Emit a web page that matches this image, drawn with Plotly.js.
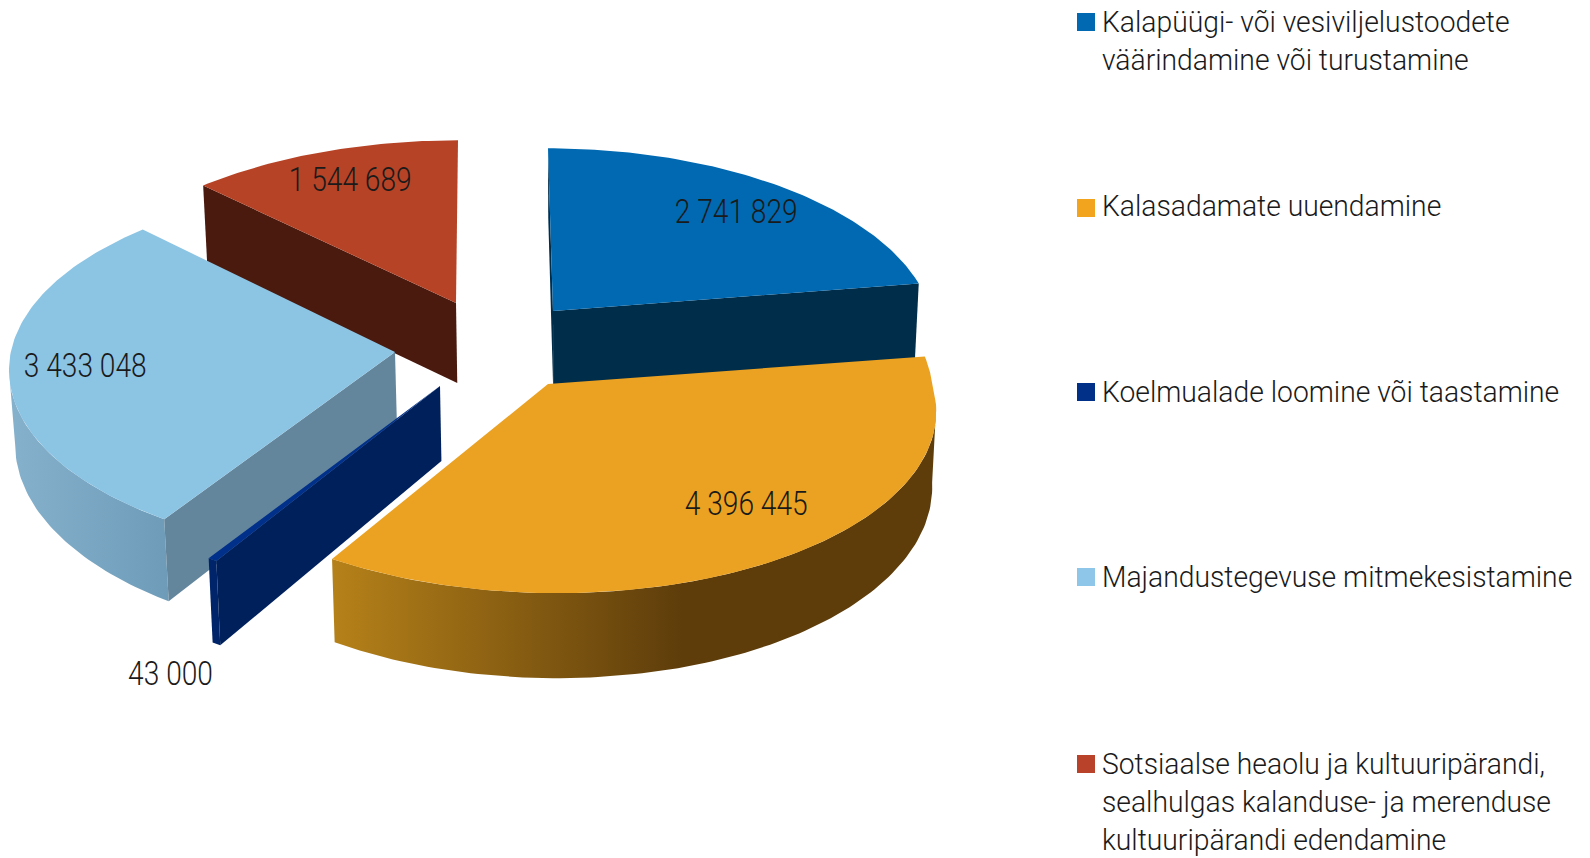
<!DOCTYPE html>
<html lang="et">
<head>
<meta charset="utf-8">
<title>Kalanduse tegevused</title>
<script src="https://cdn.plot.ly/plotly-3.0.1.min.js"></script>
<style>html,body{margin:0;padding:0;background:#fff}#chart{width:1590px;height:858px}</style>
</head>
<body>
<div id="chart"></div>
<script>
const categories = [
  "Kalapüügi- või vesiviljelustoodete<br>väärindamine või turustamine",
  "Kalasadamate uuendamine",
  "Koelmualade loomine või taastamine",
  "Majandustegevuse mitmekesistamine",
  "Sotsiaalse heaolu ja kultuuripärandi,<br>sealhulgas kalanduse- ja merenduse<br>kultuuripärandi edendamine"
];
const values = [2741829, 4396445, 43000, 3433048, 1544689];
const valueLabels = ["2 741 829", "4 396 445", "43 000", "3 433 048", "1 544 689"];

const topColors = ["#0069b1", "#eba121", "#00308a", "#8cc4e4", "#b64326"];
const swatchColors = ["#0069b1", "#f2a41e", "#003087", "#8dc6e8", "#b9432a"];
const edgeColors = ["#002d4a", "#5e3d0b", "#00205b", "#64869d", "#4a1a0f"];

// Projection of each exploded slice: centre, radius, lean, apex correction, wall height
const sliceCx = [553, 548, 440, 395, 456];
const sliceCy = [311, 384, 386, 347, 303];
const sliceA = [378, 384, 384, 383, 386];
const sliceLean = [-5, -9, 0, 0, 2];
const cornerPush = [0, 38, 0, 0, 0];
const apexDy = [0, 0, 0, 5, 0];
const sliceH = [78, 74, 75, 73, 80];
const sliceK2 = [0.13, 0.13, 0.13, 0.13, 0.03];
const B = 183, K = 0.125, VX = 570;

const labelX = [736, 746, 170, 85, 350];
const labelY = [211, 503, 673, 365, 179];
const legendY = [23, 209, 393, 578, 765];
const legendTextDy = [-0.5, -2, 0, 0, 0];
const LABEL_SQUEEZE = 0.84, LEGEND_SQUEEZE = 0.965;

const FONT = 'Roboto,sans-serif';
const total = values.reduce((a, b) => a + b, 0);
let acc = 0;
const starts = [], ends = [];
values.forEach(v => { starts.push(acc / total * 360); acc += v; ends.push(acc / total * 360); });

// angle at which the rim reaches its widest point on screen
const WIDEST = Math.acos(-K) * 180 / Math.PI;

function rim(i, deg) {
  const t = deg * Math.PI / 180, X = Math.sin(t), Y = Math.cos(t), w = 1 + K * Y;
  return [sliceCx[i] + sliceA[i] * X / w + sliceLean[i] * Y + cornerPush[i] * Math.max(Y, 0) * (X > 0 ? 1 : 0),
          sliceCy[i] - B * Y / w, Y, i];
}
function drop(p) {
  return [p[0] + 0.011 * (VX - p[0]), p[1] + sliceH[p[3]] / (1 + sliceK2[p[3]] * p[2])];
}
function arc(i, a, b) {
  const pts = [];
  const n = Math.max(2, Math.ceil(Math.abs(b - a)));
  for (let j = 0; j <= n; j++) pts.push(rim(i, a + (b - a) * j / n));
  return pts;
}
const apex = i => [sliceCx[i], sliceCy[i] + apexDy[i], 0, i];

function poly(name, pts, color, grad) {
  const xs = pts.map(p => p[0]); xs.push(pts[0][0]);
  const ys = pts.map(p => p[1]); ys.push(pts[0][1]);
  const t = { type: "scatter", mode: "lines", x: xs, y: ys, fill: "toself", name: name,
    line: { width: 0, color: color }, fillcolor: color, hoverinfo: "skip", showlegend: false };
  if (grad) t.fillgradient = grad;
  return t;
}
function topFace(i) {
  return poly("top " + i, [apex(i)].concat(arc(i, starts[i], ends[i])), topColors[i]);
}
function edgeWall(i, deg, color) {
  const a = apex(i), p = rim(i, deg);
  return poly("edge " + i, [a, p, drop(p), drop(a)], color);
}
function rimWall(i, a, b, grad, color) {
  const top = arc(i, a, b);
  const bottom = top.map(drop).reverse();
  return poly("rim " + i, top.concat(bottom), color, grad);
}

const traces = [
  edgeWall(4, starts[4], edgeColors[4]),
  topFace(4),
  edgeWall(0, 0, edgeColors[0]),
  edgeWall(0, ends[0], edgeColors[0]),
  topFace(0),
  rimWall(3, starts[3], 360 - WIDEST, { type: "horizontal", colorscale: [[0, "#86b1cd"], [1, "#6e9cb8"]] }, "#7aa6c2"),
  edgeWall(3, starts[3], edgeColors[3]),
  topFace(3),
  rimWall(2, starts[2], ends[2], null, "#002469"),
  edgeWall(2, starts[2], edgeColors[2]),
  topFace(2),
  rimWall(1, WIDEST, ends[1], { type: "horizontal",
    colorscale: [[0, "#b58119"], [0.58, "#5e3d0b"], [1, "#5e3d0b"]] }, "#5e3d0b"),
  topFace(1)
];

const annotations = valueLabels.map((t, i) => ({
  x: labelX[i], y: labelY[i], xref: "x", yref: "y", text: t, showarrow: false,
  xanchor: "center", yanchor: "middle", font: { family: FONT, size: 33.5, weight: 300, color: "#1a1a1a" }
}));
categories.forEach((c, i) => annotations.push({
  x: 1103, y: legendY[i] - 19 + legendTextDy[i], xref: "x", yref: "y", text: c, showarrow: false, align: "left",
  xanchor: "left", yanchor: "top", xshift: -2, font: { family: FONT, size: 29.3, weight: 300, color: "#1a1a1a" },
  borderpad: 0
}));
const shapes = swatchColors.map((c, i) => ({
  type: "rect", xref: "x", yref: "y", x0: 1077, x1: 1095, y0: legendY[i] - 10, y1: legendY[i] + 8,
  fillcolor: c, line: { width: 0 }
}));

Plotly.newPlot("chart", traces, {
  width: 1590, height: 858, margin: { l: 0, r: 0, t: 0, b: 0 },
  paper_bgcolor: "#fff", plot_bgcolor: "#fff", showlegend: false, hovermode: false,
  xaxis: { range: [0, 1590], visible: false, fixedrange: true },
  yaxis: { range: [858, 0], visible: false, fixedrange: true },
  annotations: annotations, shapes: shapes
}, { displayModeBar: false, staticPlot: true }).then(() => {
  // The reference type is a condensed cut: narrow the real text in place.
  document.querySelectorAll("#chart text.annotation-text").forEach((el, n) => {
    const isLabel = n < valueLabels.length;
    el.style.transformBox = "fill-box";
    el.style.transformOrigin = isLabel ? "center" : "left";
    el.style.transform = "scaleX(" + (isLabel ? LABEL_SQUEEZE : LEGEND_SQUEEZE) + ")";
  });
});
</script>
</body>
</html>
